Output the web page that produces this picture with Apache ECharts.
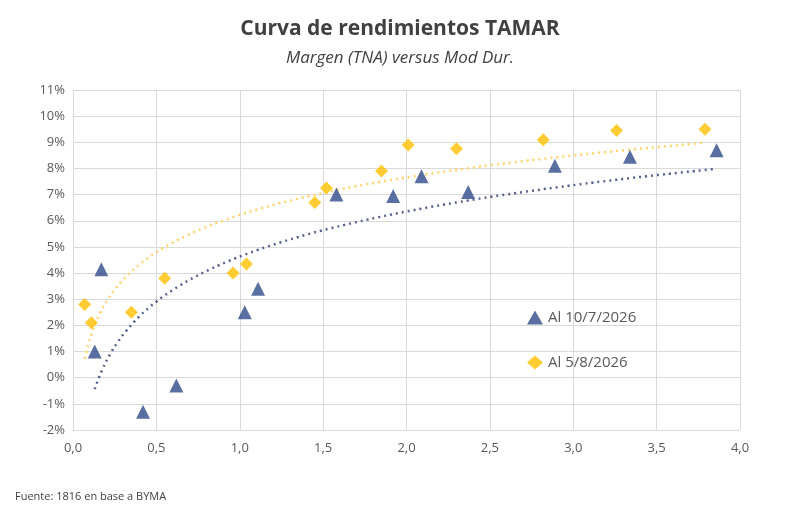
<!DOCTYPE html>
<html>
<head>
<meta charset="utf-8">
<script src="https://cdn.jsdelivr.net/npm/echarts@6/dist/echarts.min.js"></script>
<style>
  html, body { margin: 0; padding: 0; background: #fff; }
  #chart { width: 800px; height: 520px; }
</style>
</head>
<body>
<div id="chart"></div>
<script>
// Al 10/7/2026 (triangles): [mod dur, margen %]
var serieJul = [
    [0.13, 1.0], [0.17, 4.15], [0.42, -1.3], [0.62, -0.3], [1.03, 2.5], [1.11, 3.4],
    [1.58, 7.0], [1.92, 6.95], [2.09, 7.7], [2.37, 7.1], [2.89, 8.1], [3.34, 8.45], [3.86, 8.7]
];
// Al 5/8/2026 (diamonds)
var serieAgo = [
    [0.07, 2.8], [0.11, 2.1], [0.35, 2.5], [0.55, 3.8], [0.96, 4.0], [1.04, 4.35],
    [1.45, 6.7], [1.52, 7.25], [1.85, 7.9], [2.01, 8.9], [2.30, 8.75], [2.82, 9.1], [3.26, 9.45], [3.79, 9.5]
];
var nombres = ['Al 10/7/2026', 'Al 5/8/2026'];

// tendencia logaritmica (como Excel) ajustada sobre los datos
function logFit(data) {
    var n = data.length, sx = 0, sy = 0, sxx = 0, sxy = 0;
    data.forEach(function (d) {
        var l = Math.log(d[0]);
        sx += l; sy += d[1]; sxx += l * l; sxy += l * d[1];
    });
    var b = (n * sxy - sx * sy) / (n * sxx - sx * sx);
    var a = (sy - b * sx) / n;
    var x0 = data[0][0], x1 = data[n - 1][0], pts = [];
    for (var i = 0; i <= 80; i++) {
        var x = x0 + (x1 - x0) * i / 80;
        pts.push([x, a + b * Math.log(x)]);
    }
    return pts;
}

var azul = '#2F4A8A', amarillo = '#FFC000';
var chart = echarts.init(document.getElementById('chart'));
chart.setOption({
    backgroundColor: '#fff',
    textStyle: { fontFamily: 'Open Sans' },
    title: [
        { text: 'Curva de rendimientos TAMAR', left: 'center', top: 14,
          textStyle: { fontSize: 21, fontWeight: 'bold', color: '#404040' } },
        { text: 'Margen (TNA) versus Mod Dur.', left: 'center', top: 45,
          textStyle: { fontSize: 17, fontStyle: 'italic', fontWeight: 'normal', color: '#404040' } },
        { text: 'Fuente: 1816 en base a BYMA', left: 10, top: 486,
          textStyle: { fontSize: 11, fontWeight: 'normal', color: '#404040' } }
    ],
    legend: {
        data: nombres, orient: 'vertical', left: 522, top: 305, itemGap: 30,
        itemWidth: 16, itemHeight: 14,
        textStyle: { fontSize: 15, color: '#595959' }
    },
    grid: { left: 73, right: 60, top: 90, bottom: 90 },
    xAxis: {
        type: 'value', min: 0, max: 4, interval: 0.5,
        axisLine: { show: false }, axisTick: { show: false },
        splitLine: { lineStyle: { color: '#d9d9d9' } },
        axisLabel: { color: '#595959', fontSize: 13, margin: 12,
            formatter: function (v) { return v.toFixed(1).replace('.', ','); } }
    },
    yAxis: {
        type: 'value', min: -2, max: 11, interval: 1,
        axisLine: { show: false }, axisTick: { show: false },
        splitLine: { lineStyle: { color: '#d9d9d9' } },
        axisLabel: { color: '#595959', fontSize: 13, formatter: '{value}%' }
    },
    series: [
        { name: nombres[0], type: 'scatter', symbol: 'triangle', symbolSize: 14,
          itemStyle: { color: azul }, data: serieJul, z: 3 },
        { name: nombres[1], type: 'scatter', symbol: 'diamond', symbolSize: 13,
          itemStyle: { color: amarillo }, data: serieAgo, z: 3 },
        { type: 'line', data: logFit(serieJul), showSymbol: false, symbol: 'none', smooth: true,
          lineStyle: { color: '#56618F', width: 2.5, type: [2, 4] }, silent: true, z: 2 },
        { type: 'line', data: logFit(serieAgo), showSymbol: false, symbol: 'none', smooth: true,
          lineStyle: { color: '#FFD36B', width: 2.5, type: [2, 4] }, silent: true, z: 2 }
    ]
});
</script>
</body>
</html>
